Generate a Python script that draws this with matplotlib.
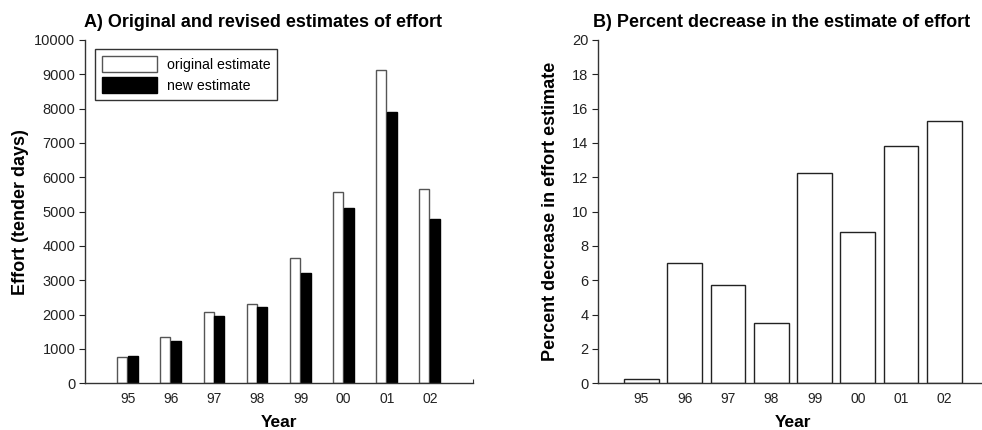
import matplotlib
matplotlib.use("Agg")
import matplotlib.pyplot as plt
import numpy as np
from matplotlib.patches import Patch

plt.rcParams['font.family'] = ['Liberation Sans', 'DejaVu Sans']

years = ["95", "96", "97", "98", "99", "00", "01", "02"]
original_estimate = [775, 1340, 2085, 2320, 3660, 5580, 9120, 5650]
new_estimate = [790, 1240, 1970, 2230, 3220, 5100, 7890, 4800]
percent_decrease = [0.23, 7.0, 5.71, 3.53, 12.23, 8.79, 13.84, 15.29]

fig = plt.figure(figsize=(9.82, 4.30), dpi=100)
axA = fig.add_axes([0.0866, 0.1086, 0.3951, 0.7984])
axB = fig.add_axes([0.609, 0.1086, 0.3968, 0.7984])

x = np.arange(len(years))
w = 0.23
axA.bar(x - 0.135, original_estimate, w, color='white', edgecolor='#555555', linewidth=1.0, label='original estimate')
axA.bar(x + 0.115, new_estimate, w, color='black', edgecolor='black', linewidth=1.0, label='new estimate')
axA.set_xlim(-1, 8)
axA.set_ylim(0, 10000)
axA.set_yticks(np.arange(0, 10001, 1000))
axA.set_title("A) Original and revised estimates of effort", fontsize=13, fontweight='bold', pad=9, x=0.459)
axA.set_ylabel("Effort (tender days)", fontsize=13, fontweight='bold', labelpad=4)
axA.set_xlabel("Year", fontsize=12.5, fontweight='bold', labelpad=7)

axB.bar(x, percent_decrease, 0.8, color='white', edgecolor='#222222', linewidth=1.0)
axB.set_xlim(-1, 8)
axB.set_ylim(0, 20)
axB.set_yticks(np.arange(0, 21, 2))
axB.set_title("B) Percent decrease in the estimate of effort", fontsize=13, fontweight='bold', pad=9, x=0.47)
axB.set_ylabel("Percent decrease in effort estimate", fontsize=13, fontweight='bold', labelpad=9)
axB.set_xlabel("Year", fontsize=12.5, fontweight='bold', labelpad=7)

for ax in (axA, axB):
    ax.set_xticks(x)
    ax.set_xticklabels(years)
    ax.tick_params(axis='x', length=0, labelsize=10, pad=6, colors='#222222')
    ax.tick_params(axis='y', length=4, width=0.8, direction='out', labelsize=10.5, colors='#222222', pad=3)
    for s in ('top', 'right'):
        ax.spines[s].set_visible(False)
    for s in ('left', 'bottom'):
        ax.spines[s].set_color('#333333')
        ax.spines[s].set_linewidth(1.0)

axA.set_xticks([8], minor=True)
axA.tick_params(axis='x', which='minor', direction='in', length=3, width=0.8, colors='#333333')

handles = [Patch(facecolor='white', edgecolor='#555555', linewidth=1.0),
           Patch(facecolor='black', edgecolor='black')]
leg = axA.legend(handles, ["original estimate", "new estimate"], loc='upper left',
                 bbox_to_anchor=(0.026, 0.973), fontsize=10.2, frameon=True, fancybox=False,
                 edgecolor='black', handlelength=3.9, handleheight=1.3, borderpad=0.5,
                 labelspacing=0.4, handletextpad=0.65, borderaxespad=0)
leg.get_frame().set_linewidth(1.0)

fig.savefig("out.png", dpi=100)
